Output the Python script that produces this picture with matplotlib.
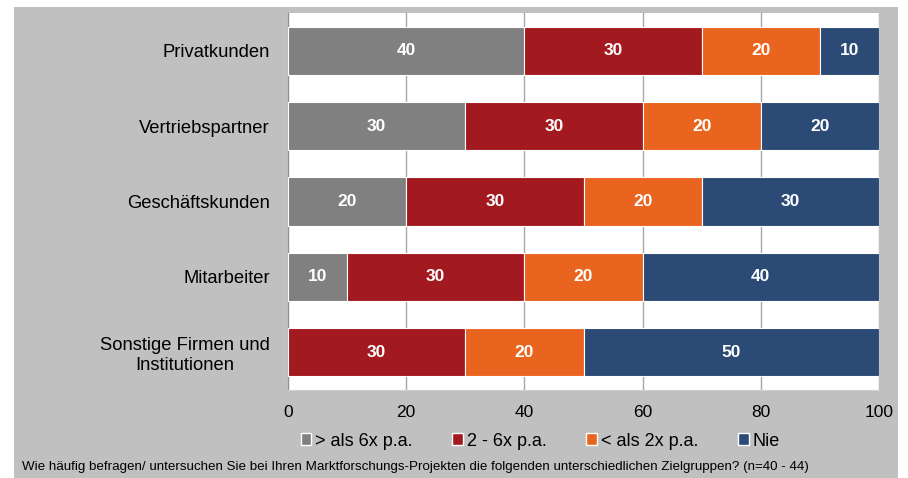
import matplotlib
matplotlib.use('Agg')
from matplotlib import pyplot as plt
from matplotlib.patches import Rectangle, Patch
import numpy as np

plt.rcParams['font.family'] = ['Liberation Sans', 'DejaVu Sans']

# Daten
gruppen = ['Privatkunden', 'Vertriebspartner', 'Geschäftskunden', 'Mitarbeiter',
           'Sonstige Firmen und\nInstitutionen']
serien = ['> als 6x p.a.', '2 - 6x p.a.', '< als 2x p.a.', 'Nie']
oft = [40, 30, 20, 10, 0]
mittel = [30, 30, 30, 30, 30]
selten = [20, 20, 20, 20, 20]
nie = [10, 20, 30, 40, 50]
farben = ['#808080', '#A31920', '#E9641E', '#2B4A75']
fussnote = ('Wie häufig befragen/ untersuchen Sie bei Ihren Marktforschungs-Projekten '
            'die folgenden unterschiedlichen Zielgruppen? (n=40 - 44)')

fig = plt.figure(figsize=(9.08, 4.78), dpi=100)
# grauer Hintergrund
fig.patches.append(Rectangle((14 / 908, 0), 884 / 908, 1 - 7 / 478,
                             transform=fig.transFigure, facecolor='#c0c0c0',
                             edgecolor='none', zorder=-10))

ax = fig.add_axes([288 / 908, 1 - 390 / 478, 591 / 908, 377 / 478])
ax.set_facecolor('white')

y = np.arange(len(gruppen))
links = np.zeros(len(gruppen))
for werte, farbe, name in zip([oft, mittel, selten, nie], farben, serien):
    werte = np.array(werte)
    ax.barh(y, werte, left=links, height=0.64, color=farbe, edgecolor='white',
            linewidth=0.8, label=name, zorder=3)
    for yi, l, w in zip(y, links, werte):
        if w > 0:
            ax.text(l + w / 2, yi, str(w), ha='center', va='center',
                    color='white', fontsize=12.5, fontweight='bold', zorder=4)
    links += werte

ax.set_xlim(0, 100)
ax.set_ylim(len(gruppen) - 0.5, -0.5)
ax.set_xticks(range(0, 101, 20))
ax.set_yticks(y)
ax.set_yticklabels(gruppen, multialignment='center')
ax.tick_params(axis='y', length=0, pad=13, labelsize=13.2)
ax.tick_params(axis='x', length=0, pad=11, labelsize=12.5)
ax.xaxis.grid(True, color='#a8a8a8', linewidth=1, zorder=0)
ax.set_axisbelow(True)
for s in ['top', 'right']:
    ax.spines[s].set_visible(False)
ax.spines['left'].set_color('#909090')
ax.spines['bottom'].set_color('#d0d0d0')

handles = [Patch(facecolor=f, edgecolor='white', label=s) for f, s in zip(farben, serien)]
fig.legend(handles=handles, loc='center', bbox_to_anchor=(540 / 908, 1 - 441 / 478),
           ncol=4, frameon=False, fontsize=13, handlelength=0.6, handleheight=0.6,
           handletextpad=0.2, columnspacing=2.2)

fig.text(22 / 908, 1 - 467 / 478, fussnote, fontsize=9.6, va='center', ha='left')

fig.savefig('out.png', dpi=100)
